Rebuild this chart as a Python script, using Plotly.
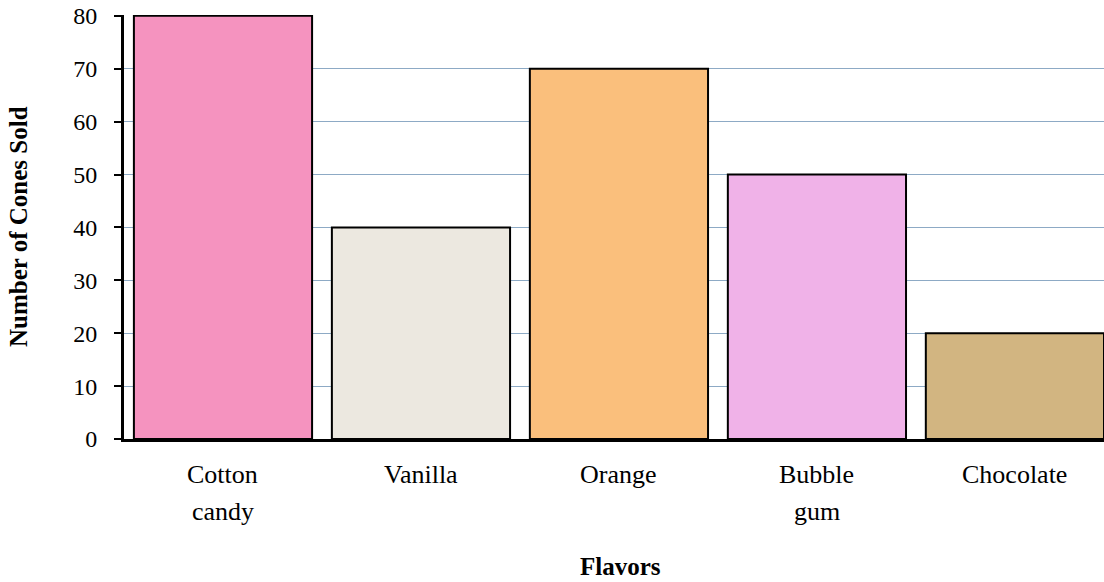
import plotly.graph_objects as go

categories = ["Cotton candy", "Vanilla", "Orange", "Bubble gum", "Chocolate"]
label_lines = [["Cotton", "candy"], ["Vanilla"], ["Orange"], ["Bubble", "gum"], ["Chocolate"]]
values = [80, 40, 70, 50, 20]
colors = ["#F593BF", "#ECE8E0", "#FABF7C", "#F0B2E8", "#D2B581"]
y_ticks = [0, 10, 20, 30, 40, 50, 60, 70, 80]

FONT = "Liberation Serif, Times New Roman, serif"

fig = go.Figure()
fig.add_trace(go.Bar(
    x=categories, y=values, width=0.9,
    marker=dict(color=colors, line=dict(color="black", width=2)),
))

annotations = []
for cat, lines in zip(categories, label_lines):
    for i, line in enumerate(lines):
        annotations.append(dict(
            x=cat, xref="x", y=0, yref="paper", yanchor="middle",
            yshift=-35 - 37 * i, text=line, showarrow=False,
            font=dict(family=FONT, size=26, color="black"),
        ))
annotations.append(dict(
    x=(620 - 124) / 980, xref="paper", y=0, yref="paper", yanchor="middle",
    yshift=-(566 - 439), text="<b>Flavors</b>", showarrow=False,
    font=dict(family=FONT, size=25, color="black"),
))
annotations.append(dict(
    x=0, xref="paper", xanchor="center", xshift=-(124 - 18), y=0.5, yref="paper",
    yanchor="middle", text="<b>Number of Cones Sold</b>", textangle=-90, showarrow=False,
    font=dict(family=FONT, size=25, color="black"),
))

fig.update_layout(
    width=1104, height=582,
    margin=dict(l=124, r=0, t=15, b=143, autoexpand=False),
    paper_bgcolor="white", plot_bgcolor="white",
    showlegend=False,
    annotations=annotations,
    font=dict(family=FONT, color="black"),
)
fig.update_xaxes(
    type="category", range=[-0.5, 4.45], automargin=False,
    showline=True, linecolor="black", linewidth=3,
    showticklabels=False, ticks="", showgrid=False,
)
fig.update_yaxes(
    range=[0, 80.15], tickvals=y_ticks, automargin=False,
    showgrid=True, gridcolor="#8DAAC5", gridwidth=1,
    showline=True, linecolor="black", linewidth=3,
    ticks="outside", ticklen=7, tickwidth=2, tickcolor="black",
    tickfont=dict(family=FONT, size=24, color="black"),
    ticklabelstandoff=12, ticklabeloverflow="allow", zeroline=False,
)

fig.write_html(
    "out.html",
    config={"displayModeBar": False},
    post_script="document.body.style.margin='0';document.body.style.overflow='hidden';",
)
